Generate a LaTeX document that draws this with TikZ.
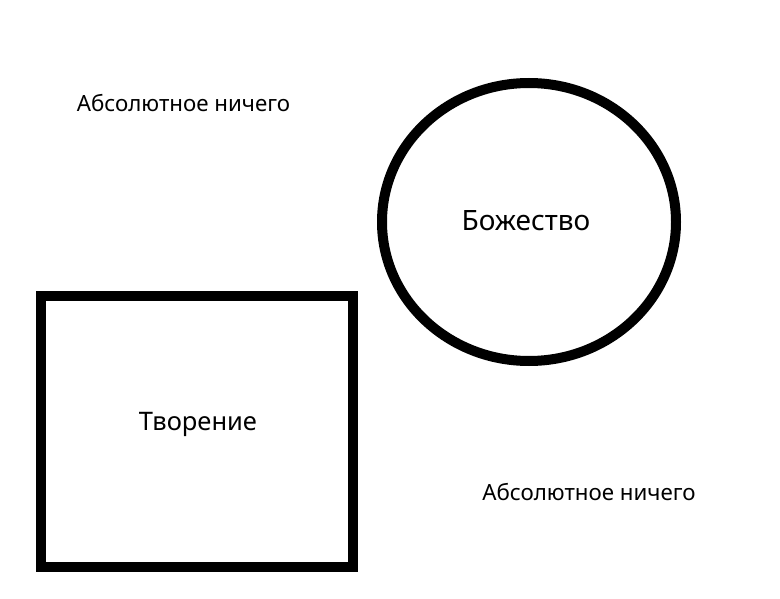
\documentclass[tikz,border=0pt]{standalone}
\usepackage{fontspec}
\setmainfont{Noto Sans}
\usetikzlibrary{shapes.geometric}
\begin{document}
\begin{tikzpicture}[x=1pt,y=-1pt,
  thick shape/.style={draw=black,line width=10pt,fill=none},
  label text/.style={font=\fontsize{22.3pt}{25pt}\selectfont},
  big text/.style={font=\fontsize{28pt}{31pt}\selectfont}]
\useasboundingbox (0,0) rectangle (780,599);
\node[thick shape,ellipse,minimum width=294pt,minimum height=278pt,inner sep=0pt] (god) at (529,222) {};
\node[big text] (godlabel) at (526,221) {Божество};
\node[thick shape,rectangle,minimum width=312pt,minimum height=271pt,inner sep=0pt] (creation) at (197,431.5) {};
\node[big text,font=\fontsize{25.5pt}{30pt}\selectfont] (creationlabel) at (198,424) {Творение};
\node[label text] (nothing1) at (183.5,103) {Абсолютное ничего};
\node[label text] (nothing2) at (589,492) {Абсолютное ничего};
\end{tikzpicture}
\end{document}
